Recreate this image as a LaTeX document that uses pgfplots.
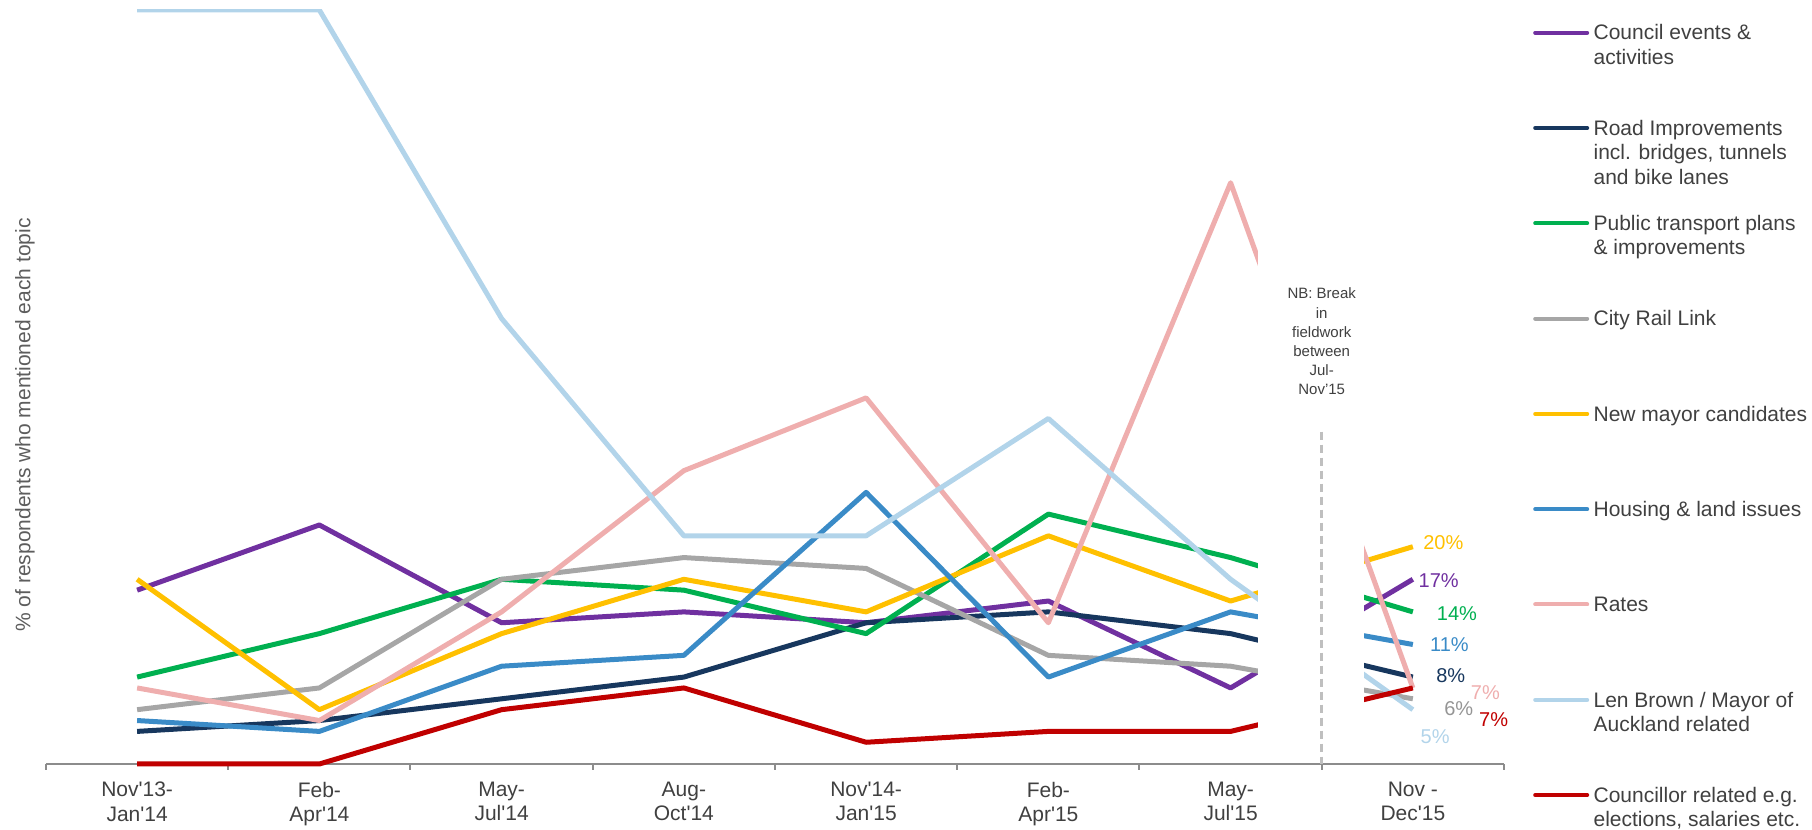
\documentclass[border=0pt]{standalone}
\usepackage{fontspec}
\setmainfont{Liberation Sans}[Ligatures=TeXOff]
\usepackage{pgfplots}
\pgfplotsset{compat=1.18}
\definecolor{cpurple}{HTML}{7030A0}
\definecolor{cnavy}{HTML}{17375E}
\definecolor{cgreen}{HTML}{00B050}
\definecolor{cgray}{HTML}{A6A6A6}
\definecolor{cyellow}{HTML}{FFC000}
\definecolor{cblue}{HTML}{3A8BC7}
\definecolor{cpink}{HTML}{EFAEAE}
\definecolor{clblue}{HTML}{B2D4EA}
\definecolor{cred}{HTML}{C00000}
\definecolor{axisgray}{HTML}{8C8C8C}
\definecolor{dashgray}{HTML}{BFBFBF}
\definecolor{txt}{HTML}{404040}
\newcommand{\mainf}{\fontsize{10.5}{12.2}\selectfont}
\newcommand{\lab}{\fontsize{10}{12}\selectfont}
\newcommand{\nbf}{\fontsize{7.5}{9.6}\selectfont}
\newcommand{\legline}[2]{\draw[#2, line width=2pt, line cap=round] (744.6pt,#1) -- (770.6pt,#1);}
\newcommand{\legtext}[2]{\node[anchor=base west, inner sep=0pt, font=\mainf, text=txt] at (773.6pt,#1) {#2};}
\begin{document}
\begin{tikzpicture}
\useasboundingbox (-23pt,-33pt) rectangle (883pt,382pt);
\begin{axis}[
  at={(0pt,0pt)}, anchor=south west,
  scale only axis, width=729pt, height=377pt,
  xmin=-0.5, xmax=7.5, ymin=0, ymax=69.4,
  axis x line*=bottom, axis y line=none,
  axis line style={draw=axisgray, line width=1pt},
  xtick={0,...,7},
  xticklabels={{Nov'13-\\Jan'14},{Feb-\\Apr'14},{May-\\Jul'14},{Aug-\\Oct'14},{Nov'14-\\Jan'15},{Feb-\\Apr'15},{May-\\Jul'15},{Nov -\\Dec'15}},
  major tick length=0pt,
  minor xtick={-0.5,0.5,1.5,2.5,3.5,4.5,5.5,6.5,7.5},
  minor tick length=3pt,
  tick align=outside,
  minor tick style={draw=axisgray, line width=1pt},
  ytick=\empty,
  xticklabel style={font=\mainf, text=txt, align=center, anchor=north, inner sep=0pt, yshift=-8.8pt},
  clip mode=individual,
  every axis plot/.append style={line width=2.5pt, line join=round, mark=none},
]
\addplot[cpurple] coordinates {(0,16) (1,22) (2,13) (3,14) (4,13) (5,15) (6,7) (7,17)};
\addplot[cnavy] coordinates {(0,3) (1,4) (2,6) (3,8) (4,13) (5,14) (6,12) (7,8)};
\addplot[cgreen] coordinates {(0,8) (1,12) (2,17) (3,16) (4,12) (5,23) (6,19) (7,14)};
\addplot[cgray] coordinates {(0,5) (1,7) (2,17) (3,19) (4,18) (5,10) (6,9) (7,6)};
\addplot[cyellow] coordinates {(0,17) (1,5) (2,12) (3,17) (4,14) (5,21) (6,15) (7,20)};
\addplot[cblue] coordinates {(0,4) (1,3) (2,9) (3,10) (4,25) (5,8) (6,14) (7,11)};
\addplot[cpink] coordinates {(0,7) (1,4) (2,14) (3,27) (4,33.7) (5,13) (6,53.5) (7,7)};
\addplot[clblue] coordinates {(0,69.4) (1,69.4) (2,41) (3,21) (4,21) (5,31.8) (6,17) (7,5)};
\addplot[cred, clip=false] coordinates {(0,0) (1,0) (2,5) (3,7) (4,2) (5,3) (6,3) (7,7)};
% break in fieldwork
\fill[white] (axis cs:6.149,0.3) rectangle (axis cs:6.734,69.4);
\draw[dashgray, line width=1.3pt, dash pattern=on 4.3pt off 2.2pt] (axis cs:6.5,30.6) -- (axis cs:6.5,0);
% end labels
\node[font=\lab, text=cyellow, inner sep=0pt] at (axis cs:7.167,20.4) {20\%};
\node[font=\lab, text=cpurple, inner sep=0pt] at (axis cs:7.142,16.9) {17\%};
\node[font=\lab, text=cgreen, inner sep=0pt] at (axis cs:7.242,13.86) {14\%};
\node[font=\lab, text=cblue, inner sep=0pt] at (axis cs:7.201,10.95) {11\%};
\node[font=\lab, text=cnavy, inner sep=0pt] at (axis cs:7.208,8.1) {8\%};
\node[font=\lab, text=cpink, inner sep=0pt] at (axis cs:7.398,6.56) {7\%};
\node[font=\lab, text=cgray!90!black, inner sep=0pt] at (axis cs:7.252,5.12) {6\%};
\node[font=\lab, text=cred, inner sep=0pt] at (axis cs:7.443,4.11) {7\%};
\node[font=\lab, text=clblue, inner sep=0pt] at (axis cs:7.122,2.51) {5\%};
\end{axis}
% NB note
\foreach \t [count=\i from 0] in {NB: Break,in,fieldwork,between,Jul-,Nov’15}{
  \node[anchor=base, inner sep=0pt, font=\nbf, text=txt] at (637.85pt,232.5pt-\i*9.6pt) {\t};
}
% y label
\node[rotate=90, font=\mainf, text=txt!85!white, inner sep=0pt] at (-10.5pt,169.5pt) {\% of respondents who mentioned each topic};
% legend
\legline{365.65pt}{cpurple}
\legtext{362.0pt}{Council events \&}
\legtext{349.8pt}{activities}
\legline{318.0pt}{cnavy}
\legtext{314.35pt}{Road Improvements}
\legtext{302.15pt}{incl. bridges, tunnels}
\legtext{289.95pt}{and bike lanes}
\legline{270.35pt}{cgreen}
\legtext{266.7pt}{Public transport plans}
\legtext{254.5pt}{\& improvements}
\legline{222.7pt}{cgray}
\legtext{219.05pt}{City Rail Link}
\legline{175.05pt}{cyellow}
\legtext{171.4pt}{New mayor candidates}
\legline{127.4pt}{cblue}
\legtext{123.75pt}{Housing \& land issues}
\legline{79.75pt}{cpink}
\legtext{76.1pt}{Rates}
\legline{32.1pt}{clblue}
\legtext{28.45pt}{Len Brown / Mayor of}
\legtext{16.25pt}{Auckland related}
\legline{-15.55pt}{cred}
\legtext{-19.2pt}{Councillor related e.g.}
\legtext{-31.4pt}{elections, salaries etc.}
\end{tikzpicture}
\end{document}
